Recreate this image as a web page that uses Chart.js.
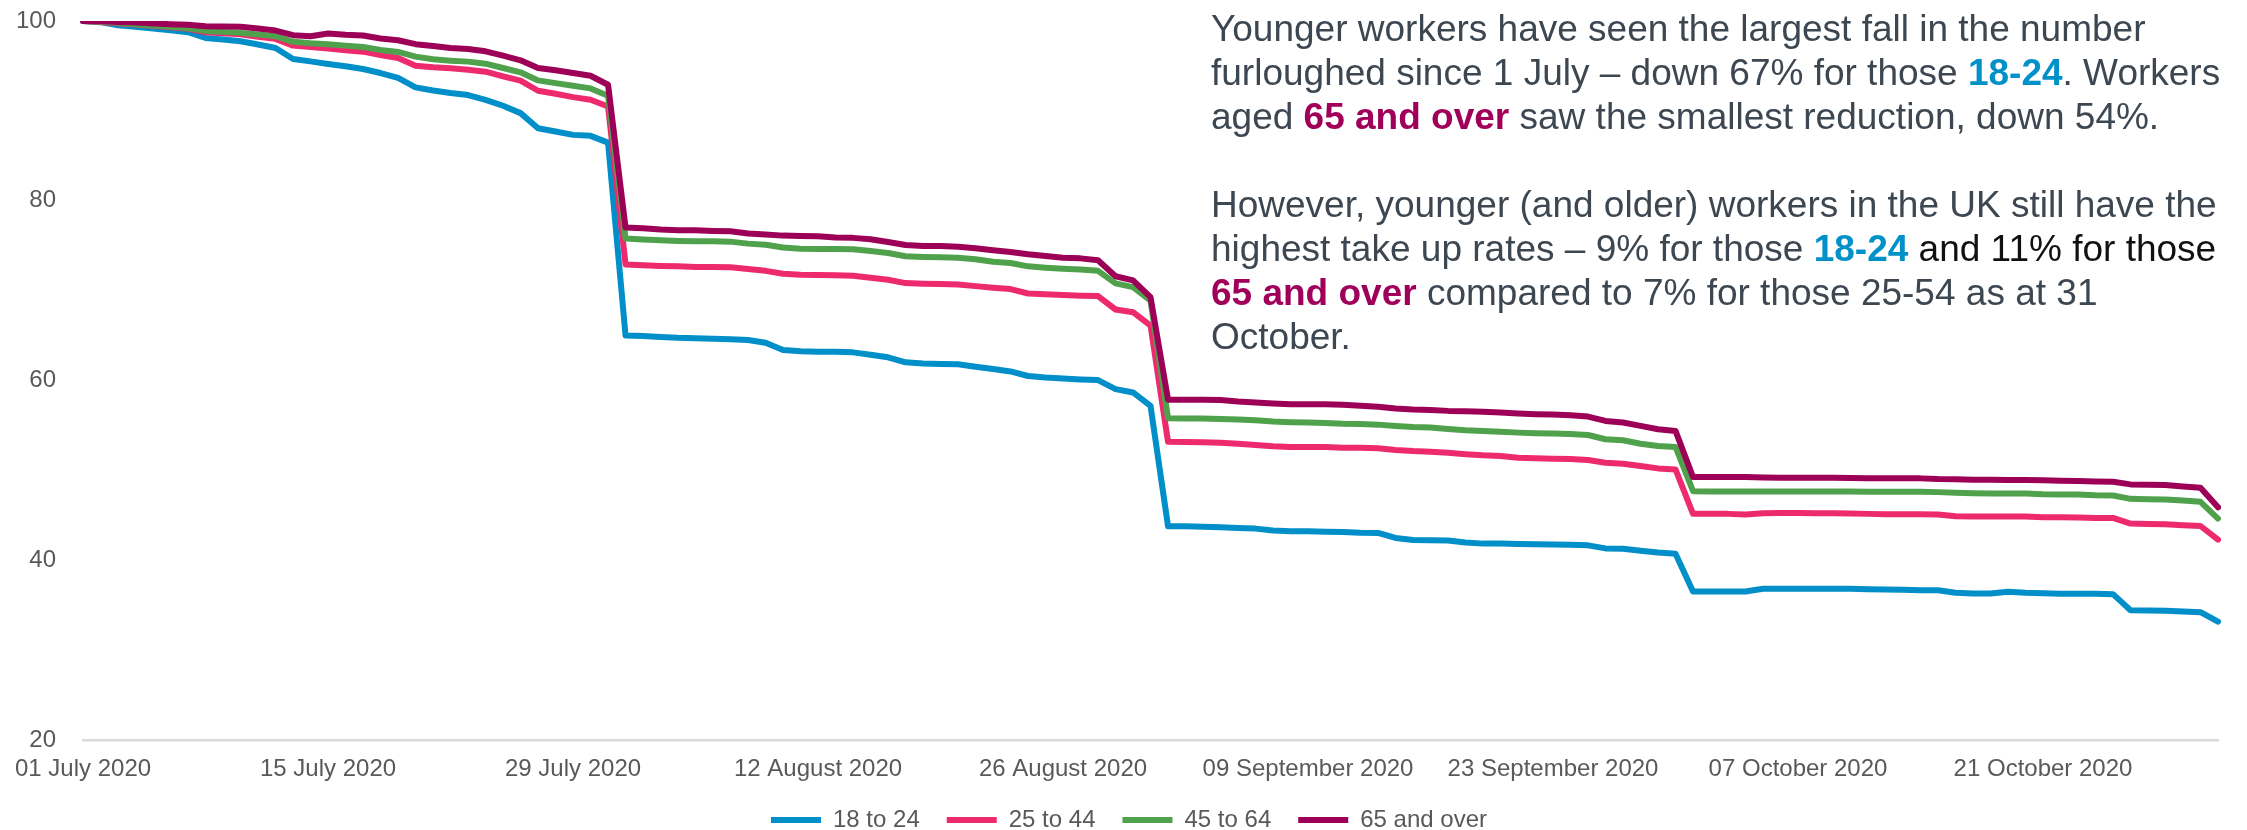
<!DOCTYPE html>
<html>
<head>
<meta charset="utf-8">
<title>Furloughed employments by age band</title>
<script src="https://cdn.jsdelivr.net/npm/chart.js@4"></script>
<style>
  html, body { margin: 0; padding: 0; background: #fff; overflow: hidden; }
  #wrap { position: relative; width: 2247px; height: 830px; }
  canvas { display: block; }
  #note {
    position: absolute; left: 1211px; top: 7px;
    font: 37px/44px "Liberation Sans", Arial, sans-serif;
    color: #3d4751; white-space: nowrap;
  }
  #note .young { color: #0091c9; font-weight: bold; }
  #note .old { color: #a0005a; font-weight: bold; }
  #note .dark { color: #111; }
</style>
</head>
<body>
<div id="wrap">
  <canvas id="furloughChart" width="2247" height="830"></canvas>
  <div id="note">
    Younger workers have seen the largest fall in the number<br>
    furloughed since 1 July – down 67% for those <span class="young">18-24</span>. Workers<br>
    aged <span class="old">65 and over</span> saw the smallest reduction, down 54%.<br>
    <br>
    However, younger (and older) workers in the UK still have the<br>
    highest take up rates – 9% for those <span class="young">18-24</span> <span class="dark">and 11% for those</span><br>
    <span class="old">65 and over</span> compared to 7% for those 25-54 as at 31<br>
    October.
  </div>
</div>
<script>
// index of furloughed employments, 01 July 2020 = 100
const monthNames = ["July", "August", "September", "October"];
const monthDays = [31, 31, 30, 31];
const tickEvery = 14;

const blue18to24 = [
  100, 99.87, 99.53, 99.35, 99.16, 98.98, 98.75, 98.12, 97.93, 97.75,
  97.38, 97.0, 95.78, 95.51, 95.22, 94.96, 94.66, 94.21, 93.66, 92.61,
  92.27, 91.98, 91.76, 91.23, 90.57, 89.75, 88.07, 87.7, 87.33, 87.22,
  86.47, 65.0, 64.95, 64.85, 64.75, 64.7, 64.65, 64.6, 64.5, 64.2,
  63.4, 63.25, 63.21, 63.21, 63.13, 62.87, 62.58, 62.02, 61.9, 61.83,
  61.8, 61.53, 61.28, 61.01, 60.5, 60.34, 60.23, 60.12, 60.05, 59.04,
  58.67, 57.18, 43.78, 43.78, 43.74, 43.67, 43.59, 43.52, 43.3, 43.22,
  43.22, 43.18, 43.15, 43.07, 43.04, 42.48, 42.25, 42.22, 42.2, 41.97,
  41.85, 41.85, 41.81, 41.79, 41.75, 41.72, 41.66, 41.32, 41.27, 41.06,
  40.86, 40.73, 36.52, 36.52, 36.52, 36.52, 36.82, 36.82, 36.82, 36.82,
  36.82, 36.82, 36.78, 36.75, 36.71, 36.67, 36.67, 36.38, 36.3, 36.3,
  36.49, 36.38, 36.34, 36.27, 36.27, 36.27, 36.23, 34.44, 34.4, 34.37,
  34.29, 34.22, 33.17
];

const pink25to44 = [
  100, 99.9, 99.76, 99.61, 99.46, 99.31, 99.13, 98.75, 98.64, 98.53,
  98.24, 98.01, 97.26, 97.11, 96.93, 96.74, 96.59, 96.22, 95.89, 95.03,
  94.85, 94.73, 94.58, 94.36, 93.84, 93.36, 92.24, 91.9, 91.53, 91.23,
  90.49, 72.92, 72.81, 72.74, 72.7, 72.62, 72.62, 72.59, 72.4, 72.2,
  71.88, 71.77, 71.73, 71.7, 71.66, 71.44, 71.21, 70.84, 70.77, 70.73,
  70.69, 70.5, 70.32, 70.17, 69.68, 69.61, 69.5, 69.43, 69.4, 67.9,
  67.6, 66.11, 53.19, 53.16, 53.12, 53.08, 52.97, 52.82, 52.68, 52.6,
  52.6, 52.6, 52.52, 52.52, 52.45, 52.27, 52.15, 52.08, 51.95, 51.79,
  51.67, 51.6, 51.41, 51.34, 51.3, 51.26, 51.15, 50.85, 50.74, 50.48,
  50.22, 50.11, 45.16, 45.16, 45.16, 45.09, 45.23, 45.25, 45.25, 45.23,
  45.23, 45.2, 45.16, 45.12, 45.12, 45.12, 45.09, 44.9, 44.86, 44.86,
  44.86, 44.86, 44.79, 44.79, 44.75, 44.71, 44.71, 44.08, 44.04, 44.0,
  43.89, 43.81, 42.29
];

const green45to64 = [
  100, 99.94, 99.8, 99.65, 99.5, 99.35, 99.2, 98.9, 98.79, 98.68,
  98.49, 98.31, 97.68, 97.52, 97.41, 97.26, 97.11, 96.78, 96.56, 96.04,
  95.74, 95.59, 95.48, 95.25, 94.77, 94.29, 93.39, 93.09, 92.8, 92.5,
  91.68, 75.79, 75.68, 75.6, 75.53, 75.49, 75.49, 75.45, 75.23, 75.1,
  74.79, 74.67, 74.64, 74.64, 74.6, 74.41, 74.19, 73.82, 73.74, 73.7,
  73.67, 73.48, 73.22, 73.07, 72.7, 72.55, 72.44, 72.36, 72.2, 70.8,
  70.39, 68.9, 55.81, 55.77, 55.77, 55.73, 55.65, 55.58, 55.43, 55.36,
  55.32, 55.28, 55.2, 55.17, 55.09, 54.95, 54.83, 54.76, 54.6, 54.46,
  54.39, 54.31, 54.2, 54.13, 54.09, 54.05, 53.94, 53.46, 53.35, 52.97,
  52.71, 52.6, 47.69, 47.65, 47.65, 47.65, 47.65, 47.65, 47.65, 47.65,
  47.65, 47.65, 47.61, 47.61, 47.61, 47.61, 47.58, 47.5, 47.46, 47.43,
  47.43, 47.43, 47.35, 47.32, 47.32, 47.24, 47.21, 46.83, 46.8, 46.76,
  46.65, 46.5, 44.64
];

const purple65plus = [
  100, 100, 99.9, 99.83, 99.72, 99.65, 99.57, 99.42, 99.39, 99.35,
  99.16, 98.94, 98.42, 98.31, 98.6, 98.46, 98.38, 98.05, 97.86, 97.42,
  97.22, 97.0, 96.89, 96.63, 96.15, 95.63, 94.77, 94.51, 94.21, 93.91,
  92.91, 77.02, 76.94, 76.8, 76.72, 76.72, 76.64, 76.6, 76.35, 76.25,
  76.12, 76.09, 76.05, 75.9, 75.87, 75.72, 75.42, 75.08, 74.97, 74.97,
  74.89, 74.71, 74.49, 74.3, 74.04, 73.85, 73.67, 73.59, 73.37, 71.6,
  71.14, 69.27, 57.85, 57.85, 57.85, 57.82, 57.66, 57.55, 57.44, 57.37,
  57.37, 57.37, 57.29, 57.18, 57.07, 56.88, 56.77, 56.73, 56.62, 56.58,
  56.51, 56.43, 56.32, 56.25, 56.21, 56.14, 55.99, 55.5, 55.32, 54.95,
  54.58, 54.39, 49.25, 49.25, 49.25, 49.25, 49.22, 49.18, 49.18, 49.18,
  49.18, 49.14, 49.11, 49.11, 49.11, 49.11, 49.03, 49.0, 48.96, 48.96,
  48.92, 48.92, 48.89, 48.85, 48.81, 48.77, 48.73, 48.44, 48.4, 48.36,
  48.21, 48.06, 45.9
];

// one category per day, "01 July 2020" ... "31 October 2020"
const days = [];
monthNames.forEach((m, i) => {
  for (let d = 1; d <= monthDays[i]; d++) {
    days.push(String(d).padStart(2, "0") + " " + m + " 2020");
  }
});

const grey = "#595959";
const axisFont = { family: "'Liberation Sans', Arial, sans-serif", size: 24 };

function series(label, data, color, order) {
  return {
    label, data, order,
    borderColor: color,
    backgroundColor: color,
    borderWidth: 6,
    borderCapStyle: "round",
    borderJoinStyle: "round",
    pointRadius: 0,
    tension: 0
  };
}

// small shift of the legend from where Chart.js puts it
const legendNudge = {
  id: "legendNudge",
  afterLayout(chart) {
    chart.legend.top -= 4;
    chart.legend.bottom -= 4;
    chart.legend.left += 20;
    chart.legend.right += 20;
  }
};

new Chart(document.getElementById("furloughChart"), {
  type: "line",
  data: {
    labels: days,
    datasets: [
      series("18 to 24", blue18to24, "#008fc8", 3),
      series("25 to 44", pink25to44, "#ee2a6f", 2),
      series("45 to 64", green45to64, "#4fa24b", 1),
      series("65 and over", purple65plus, "#9d0057", 0)
    ]
  },
  options: {
    responsive: false,
    animation: false,
    devicePixelRatio: 1,
    // negative bottom padding lets the legend's empty lower margin hang off the canvas
    layout: { padding: { top: 21, right: 29, bottom: -16, left: 0 } },
    plugins: {
      tooltip: { enabled: false },
      legend: {
        position: "bottom",
        labels: {
          usePointStyle: true,
          pointStyle: "line",
          pointStyleWidth: 50,
          padding: 27,
          color: grey,
          font: axisFont,
          sort: (a, b) => a.datasetIndex - b.datasetIndex
        }
      }
    },
    scales: {
      x: {
        grid: { display: false, drawTicks: false },
        border: { display: true, color: "#d9d9d9", width: 2.5 },
        ticks: {
          autoSkip: false,
          maxRotation: 0,
          minRotation: 0,
          padding: 15,
          color: grey,
          font: axisFont,
          callback: (v, i) => (i % tickEvery === 0 ? days[i] : null)
        },
        afterFit: s => { s.height = 45; }
      },
      y: {
        min: 20,
        max: 100,
        grid: { display: false, drawTicks: false },
        border: { display: false },
        ticks: { stepSize: 20, padding: 27, color: grey, font: axisFont },
        // tick padding would otherwise be added above and below the plot
        afterFit: s => {
          s.width = 83;
          s.paddingTop = 0;
          s.paddingBottom = 0;
        }
      }
    }
  },
  plugins: [legendNudge]
});
</script>
</body>
</html>
